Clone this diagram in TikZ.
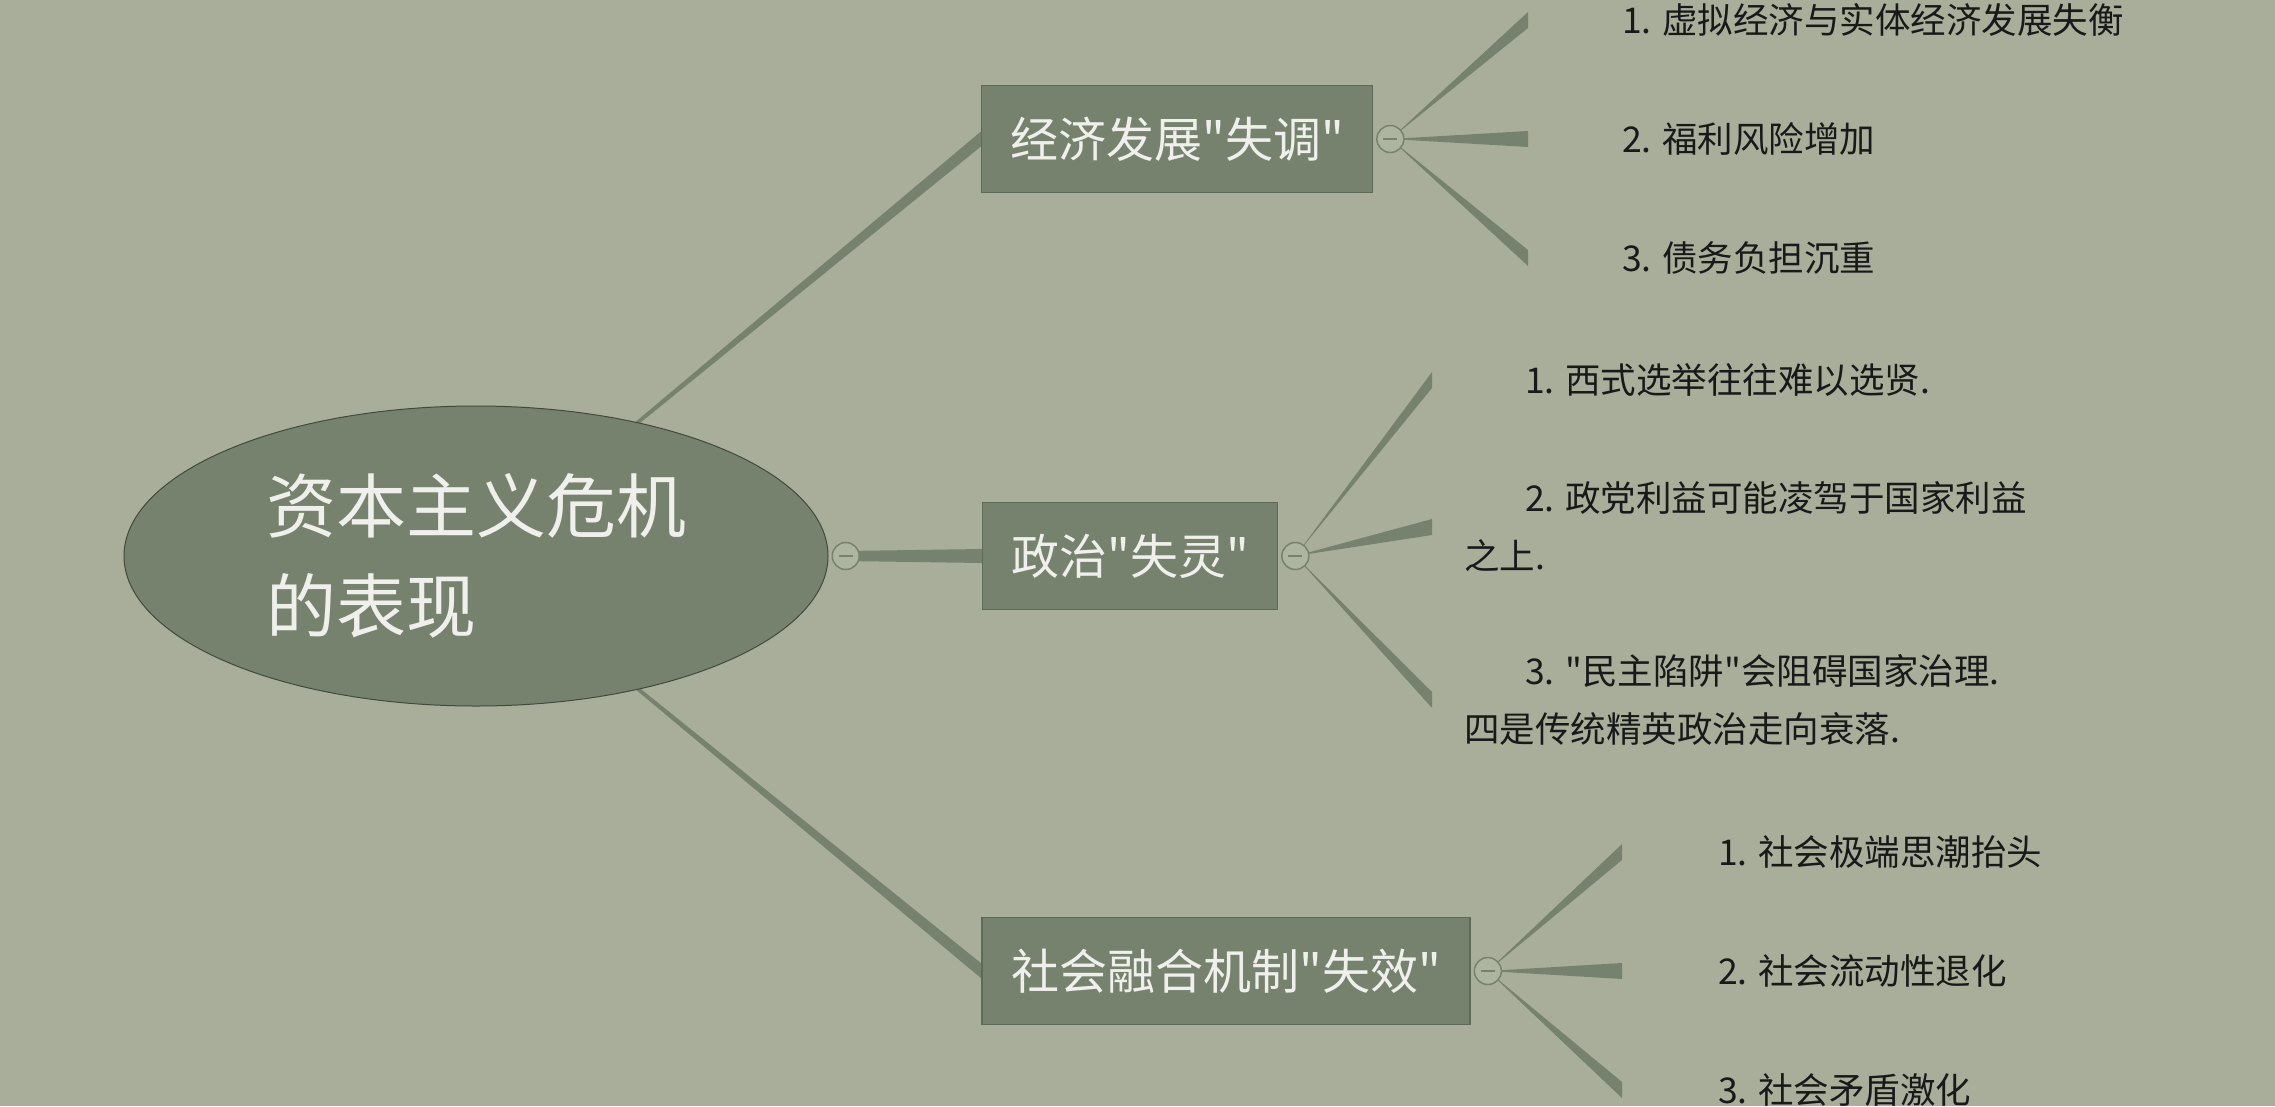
\documentclass[tikz,border=0pt]{standalone}
\usepackage{fontspec}
\setmainfont{Noto Sans CJK SC}[Ligatures=TeXOff]
\usepackage{tikz}
\usetikzlibrary{positioning,calc,shapes.geometric,backgrounds}

\definecolor{paper}{HTML}{A9AE9B}
\definecolor{sage}{HTML}{76826E}
\definecolor{sageline}{HTML}{5E6A58}
\definecolor{foldfill}{HTML}{ADB4A0}
\definecolor{chalk}{HTML}{EFEFEC}

\tikzset{
  root/.style={ellipse, fill=sage, draw=sageline!70!black, line width=1pt,
    minimum width=704pt, minimum height=300pt, inner sep=0pt, align=left,
    text=chalk, font=\fontsize{70}{100}\selectfont},
  topic/.style={rectangle, fill=sage, draw=sageline, line width=1.2pt,
    minimum height=107pt, inner sep=0pt, text=chalk,
    font=\fontsize{48}{52}\selectfont},
  fold/.style={circle, draw=sage, line width=1.5pt, fill=foldfill,
    minimum size=27pt, inner sep=0pt,
    path picture={\draw[sage, line width=1.5pt]
      ([xshift=-7pt]path picture bounding box.center) --
      ([xshift=7pt]path picture bounding box.center);}},
  leaf/.style={inner sep=0pt, align=left, text=black!90,
    font=\fontsize{35.5}{58}\selectfont},
  branch/.style={fill=sage},
}

\begin{document}
\begin{tikzpicture}[x=1pt, y=-1pt]
\useasboundingbox (0,0) rectangle (2275,1106);

% centre and the three topics
\node[root] (root) at (476,556) {资本主义危机\\的表现};
\node[fold, right=3pt of root] (c0) {};
\node[topic, minimum width=391pt] (b1) at (1177,139) {经济发展"失调"};
\node[topic, minimum width=295pt] (b2) at (1130,556) {政治"失灵"};
\node[topic, minimum width=488pt] (b3) at (1226,971) {社会融合机制"失效"};
\node[fold, right=3pt of b1] (c1) {};
\node[fold, right=3pt of b2] (c2) {};
\node[fold, right=3pt of b3] (c3) {};

% ends of the leaf wedges
\coordinate (e11) at (1528,20);
\coordinate (e12) at (1528,139);
\coordinate (e13) at (1528,258);
\coordinate (e21) at (1432,380);
\coordinate (e22) at (1432,527);
\coordinate (e23) at (1432,700);
\coordinate (e31) at (1622,852);
\coordinate (e32) at (1622,971);
\coordinate (e33) at (1622,1090);

\node[leaf, right=94pt of e11] (l11) {1. 虚拟经济与实体经济发展失衡};
\node[leaf, right=94pt of e12] (l12) {2. 福利风险增加};
\node[leaf, right=94pt of e13] (l13) {3. 债务负担沉重};
\node[leaf, right=32pt of e21] (l21) {\hspace*{61pt}1. 西式选举往往难以选贤.};
\node[leaf, right=32pt of e22] (l22) {\hspace*{61pt}2. 政党利益可能凌驾于国家利益\\之上.};
\node[leaf, right=32pt of e23] (l23) {\hspace*{61pt}3. "民主陷阱"会阻碍国家治理.\\四是传统精英政治走向衰落.};
\node[leaf, right=96pt of e31] (l31) {1. 社会极端思潮抬头};
\node[leaf, right=96pt of e32] (l32) {2. 社会流动性退化};
\node[leaf, right=96pt of e33] (l33) {3. 社会矛盾激化};

\begin{pgfonlayer}{background}
\fill[paper] (0,0) rectangle (2275,1106);
% tapered links
\fill[branch] (root.center) -- ($(b1.west)+(0,-7.5)$) -- ($(b1.west)+(0,7.5)$) -- cycle;
\fill[branch] (root.center) -- ($(b3.west)+(0,-7.5)$) -- ($(b3.west)+(0,7.5)$) -- cycle;
\fill[branch] ($(c0.center)+(0,-5)$) -- ($(b2.west)+(0,-7)$) -- ($(b2.west)+(0,7)$) -- ($(c0.center)+(0,5)$) -- cycle;
\foreach \g in {1,2,3}
  \foreach \k in {1,2,3}
    \fill[branch] (c\g.center) -- ($(e\g\k)+(0,-8)$) -- ($(e\g\k)+(0,8)$) -- cycle;
\end{pgfonlayer}
\end{tikzpicture}
\end{document}
